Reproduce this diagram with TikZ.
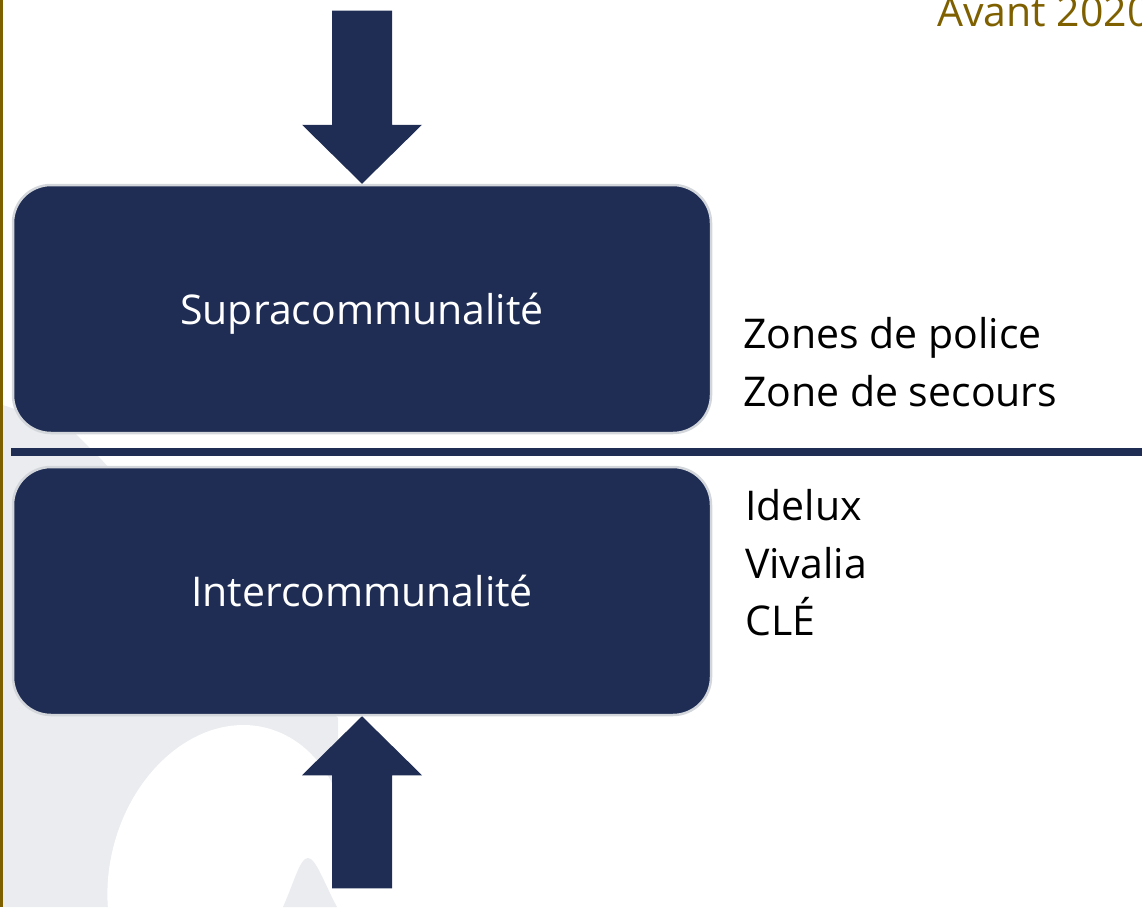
\documentclass[tikz,border=0pt]{standalone}
\usepackage{fontspec}
\setmainfont{Open Sans}
\definecolor{navy}{HTML}{1F2D54}
\definecolor{gold}{HTML}{7F6000}
\definecolor{wm}{HTML}{EAECEF}
\definecolor{edgegray}{HTML}{D3D6DB}
\begin{document}
\begin{tikzpicture}[x=1pt,y=-1pt,
  box/.style={fill=navy, draw=edgegray, line width=2.5pt, rounded corners=38pt,
    minimum width=698pt, minimum height=248pt, text=white, inner sep=0pt,
    text height=40pt, text depth=10pt,
    font=\fontsize{41}{49}\selectfont},
  side/.style={anchor=base west, inner sep=0pt, text=black, font=\fontsize{41}{49}\selectfont},
  blockarrow/.style={fill=navy},
  divider/.style={draw=navy, line width=7.5pt}]
\useasboundingbox (0,0) rectangle (1142,907);
% watermark
\fill[wm] (3,405) -- (70,428) -- (100,458) -- (338,718) -- (338,907) -- (3,907) -- cycle;
\fill[white, rotate around={-15:(228,875)}] (228,875) ellipse [x radius=118, y radius=152];
\fill[wm] (283,907) .. controls (295,880) and (300,858) .. (308,858) .. controls (316,858) and (325,885) .. (337,907) -- cycle;
% boxes
\node[box] (sup) at (362,309) {Supracommunalité};
\node[box] (inter) at (362,591) {Intercommunalité};
% block arrows
\fill[blockarrow] (sup.north) -- ++(60,-59) -- ++(-30,0) -- ++(0,-114) -- ++(-60,0) -- ++(0,114) -- ++(-30,0) -- cycle;
\fill[blockarrow] (inter.south) -- ++(60,59) -- ++(-30,0) -- ++(0,113) -- ++(-60,0) -- ++(0,-113) -- ++(-30,0) -- cycle;
% divider
\coordinate (hl) at (11,452);
\coordinate (hr) at (1142,452);
\draw[divider] (hl) -- (hr);
% side texts
\node[side] (z1) at (743,348) {Zones de police};
\node[side] (z2) at (743,406) {Zone de secours};
\node[side] (i1) at (745,520) {Idelux};
\node[side] (i2) at (745,578) {Vivalia};
\node[side] (i3) at (745,635) {CLÉ};
% title
\node[anchor=base west, inner sep=0pt, text=gold, font=\fontsize{41}{49}\selectfont] (avant) at (937,27) {Avant 2020};
% gold rule
\fill[gold] (0,0) rectangle (3,907);
\end{tikzpicture}
\end{document}
